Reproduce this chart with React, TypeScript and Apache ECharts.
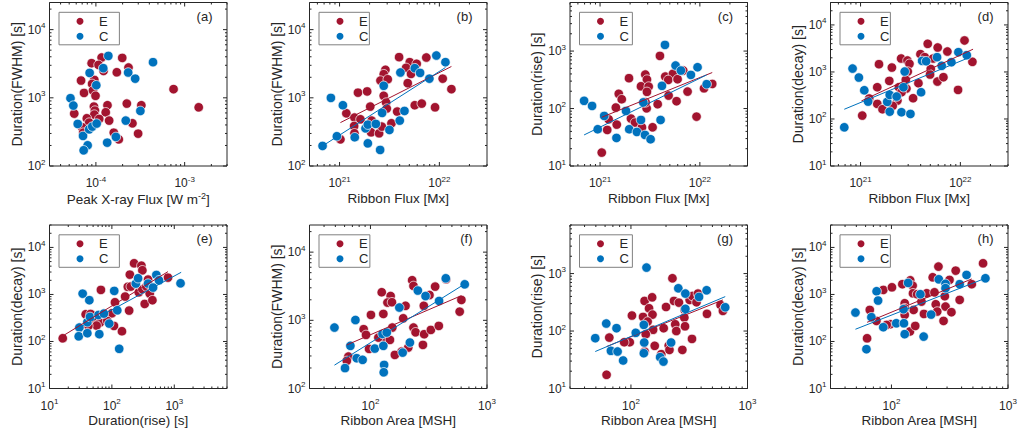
import React, { useEffect, useRef } from "react";
import * as echarts from "echarts";

const FONT = '"Liberation Sans", Arial, Helvetica, sans-serif';
const INK = "#262626";
const E_COLOR = "#A2142F";
const C_COLOR = "#0072BD";

// axis ranges
const PEAK_FLUX_RANGE = [3e-5, 3e-3];
const RIBBON_FLUX_RANGE = [5e20, 3e22];
const AREA_RANGE = [30, 1000];
const FWHM_RANGE = [100, 2.5e4];
const RISE_RANGE = [10, 7000];
const DECAY_RANGE = [10, 3e4];

const GROUPS = ["E", "C"];
const PANEL_LABELS = ["(a)", "(b)", "(c)", "(d)", "(e)", "(f)", "(g)", "(h)"];
const X_NAMES = [
  "{n|Peak X-ray Flux [W m}{s|-2}{n|]}",
  "Ribbon Flux [Mx]",
  "Ribbon Flux [Mx]",
  "Ribbon Flux [Mx]",
  "Duration(rise) [s]",
  "Ribbon Area [MSH]",
  "Ribbon Area [MSH]",
  "Ribbon Area [MSH]",
];
const Y_NAMES = [
  "Duration(FWHM) [s]",
  "Duration(FWHM) [s]",
  "Duration(rise) [s]",
  "Duration(decay) [s]",
  "Duration(decay) [s]",
  "Duration(FWHM) [s]",
  "Duration(rise) [s]",
  "Duration(decay) [s]",
];

// (a) peak X-ray flux vs FWHM
const A_E = [[1.16e-4,3900],[1.98e-4,3850],[8.95e-5,3220],[1.07e-4,3040],[2.33e-4,2780],[1.72e-4,2370],[1.22e-4,2480],[6.8e-5,1790],[9.6e-5,1830],[9.06e-5,1600],[7.35e-5,1180],[9.27e-5,1280],[9.9e-5,1070],[7.5e-4,1340],[1.44e-3,726],[5.7e-5,586],[9.5e-5,743],[9.75e-5,649],[9.6e-5,567],[1.35e-4,778],[1.29e-4,614],[2.23e-4,822],[3.25e-4,778],[7.9e-5,501],[1.09e-4,490],[1.41e-4,463],[8.4e-5,433],[7.0e-5,370],[7.2e-5,308],[2.58e-4,423],[1.59e-4,308],[1.81e-4,246],[2.99e-4,298]];
const A_C = [[5.17e-5,986],[5.57e-5,769],[6.24e-5,414],[7.16e-5,276],[8.07e-5,201],[7.28e-5,170],[8.4e-5,345],[9.1e-5,378],[1.02e-4,419],[8.5e-5,2320],[1.01e-4,1530],[1.21e-4,2720],[1.38e-4,4120],[2.31e-4,2350],[2.77e-4,1910],[4.4e-4,3330],[3.17e-4,642],[2.17e-4,463],[1.68e-4,267],[1.34e-4,220]];

// (b) ribbon flux vs FWHM
const B_E = [[3.95e21,3950],[5.05e21,3330],[7.4e21,3900],[5.93e21,3150],[4.64e21,2750],[5.2e21,2240],[2.88e21,2570],[2.77e21,2220],[2.57e21,1790],[3.04e21,1870],[4.82e21,1640],[1.08e22,1910],[1.32e22,1340],[1.53e21,1190],[1.89e21,1240],[2.77e21,1070],[2.93e21,851],[2.97e21,695],[2.03e21,743],[1.17e21,593],[1.41e21,513],[1.62e21,484],[1.4e21,386],[1.41e21,302],[2.1e21,463],[2.07e21,312],[2.49e21,302],[2.65e21,378],[3.31e21,423],[3.78e21,628],[5.67e21,778],[6.66e21,822],[9.05e21,726],[1.02e21,246]];
const B_C = [[6.76e20,197],[8.19e20,997],[9.4e20,273],[1.08e21,778],[1.42e21,264],[1.82e21,357],[1.92e21,404],[1.92e21,215],[2.31e21,414],[2.55e21,172],[2.67e21,600],[2.77e21,1500],[3.16e21,338],[4.01e21,463],[4.47e21,642],[4.07e21,2350],[5.67e21,2720],[6.41e21,2320],[7.94e21,1910],[9.33e21,4170],[1.15e22,3330]];
const B_FIT_E = [[1.02e21,433],[1.32e22,2880]];
const B_FIT_C = [[6.76e20,197],[1.15e22,2780]];

// (c) ribbon flux vs rise
const C_E = [[3.98e21,824],[1.95e21,337],[2.84e21,390],[2.95e21,319],[2.57e21,244],[3.07e21,241],[2.95e21,195],[4.5e21,360],[5.37e21,401],[4.82e21,315],[5.98e21,324],[6.81e21,458],[4.86e21,168],[5.84e21,134],[7.53e21,197],[1.1e22,225],[1.33e22,268],[9.26e21,72.3],[3.78e21,119],[2.93e21,101],[2.86e21,128],[1.54e21,180],[1.65e21,145],[1.44e21,104],[2.04e21,66.8],[2.24e21,56.9],[1.47e21,52.5],[1.22e21,65],[1.18e21,42.4],[2.63e21,47.2],[3.36e21,47.2],[1.04e21,17.1]];
const C_C = [[6.92e20,136],[8.32e20,111],[1.1e21,74.3],[9.48e20,43.6],[1.46e21,30.8],[1.82e21,90.8],[1.96e21,43.6],[2.34e21,39.1],[2.57e21,63.2],[2.71e21,128],[2.82e21,34.7],[3.21e21,29.2],[4.04e21,63.2],[4.17e21,248],[4.47e21,1280],[5.71e21,560],[6.46e21,458],[8.13e21,385],[9.48e21,523],[1.17e22,265]];
const C_FIT_E = [[1.04e21,70.5],[1.33e22,423]];
const C_FIT_C = [[6.92e20,34.7],[1.17e22,385]];

// (d) ribbon flux vs decay
const D_E = [[1.1e22,4670],[4.71e21,3960],[5.93e21,3310],[7.41e21,2720],[1.32e22,1640],[1.53e21,1460],[2.55e21,1930],[2.95e21,1750],[3.09e21,1490],[3.98e21,2390],[4.4e21,2060],[5.33e21,1930],[2.06e21,1240],[5.05e21,1160],[4.97e21,881],[2.97e21,1020],[2.84e21,678],[1.94e21,646],[5.89e21,625],[6.76e21,773],[3.8e21,576],[1.47e21,473],[2.42e21,473],[2.88e21,444],[2.57e21,370],[9.48e21,415],[3.36e21,276],[2.34e21,246],[1.22e21,272],[1.47e21,209],[2.1e21,190],[1.66e21,161],[1.04e21,118]];
const D_C = [[6.87e20,66.5],[8.32e20,1180],[9.62e20,760],[1.09e21,408],[1.19e21,234],[1.85e21,231],[1.96e21,325],[1.96e21,143],[2.57e21,139],[2.69e21,473],[2.77e21,1020],[3.16e21,128],[4.04e21,370],[4.14e21,1720],[4.54e21,1690],[5.84e21,2060],[6.5e21,1350],[8.13e21,1610],[9.55e21,2630],[1.16e22,2270],[2.3e21,300]];
const D_FIT_E = [[1.02e21,242],[1.34e22,3050]];
const D_FIT_C = [[6.87e20,161],[1.16e22,1930]];

// (e) rise vs decay
const E_E = [[16.3,117],[227,4600],[297,4100],[194,2640],[308,3270],[380,2070],[793,2280],[180,1450],[201,1470],[270,1110],[308,1290],[357,1470],[404,1040],[163,901],[66.7,1250],[112,682],[336,629],[446,754],[189,454],[100,398],[38,379],[45.7,385],[53.6,302],[43.5,288],[64.4,252],[56.9,218],[41.9,214],[84.3,274],[108,214],[145,165]];
const E_C = [[34,1040],[43.5,754],[30.1,198],[29.4,129],[40.4,150],[40.4,257],[44.6,333],[61.2,367],[62.8,143],[74.5,392],[90.6,240],[109,1190],[122,461],[131,69.7],[242,1700],[263,2210],[380,1700],[457,1400],[516,2600],[569,2000],[1260,1730]];
const E_FIT_E = [[15.4,125],[793,3060]];
const E_FIT_C = [[26.7,182],[1290,2960]];

// (f) ribbon area vs FWHM
const F_E = [[228,3870],[234,3190],[359,3120],[446,4000],[321,2350],[125,2580],[149,2270],[140,1820],[153,1840],[200,1630],[287,1630],[603,1990],[583,1340],[129,1240],[101,1200],[191,1070],[154,783],[87.5,740],[91.6,611],[234,783],[244,668],[289,625],[330,723],[386,828],[282,436],[211,399],[185,348],[162,311],[133,516],[147,516],[117,558],[97.3,381],[64.7,294],[62.7,254]];
const F_C = [[49.1,783],[60.5,199],[67.3,422],[74.3,1010],[76.3,278],[85.7,263],[109,385],[127,632],[138,661],[129,422],[131,222],[130,173],[177,1540],[189,336],[218,472],[255,2730],[297,2270],[388,1920],[443,4130],[644,3370]];
const F_FIT_E = [[62.7,436],[603,2300]];
const F_FIT_C = [[49.1,220],[644,3410]];

// (g) ribbon area vs rise
const G_E = [[227,828],[131,334],[152,386],[143,249],[127,176],[153,193],[200,262],[234,334],[258,312],[289,233],[319,348],[336,408],[376,448],[365,317],[287,171],[291,121],[240,131],[245,100],[191,112],[155,105],[139,146],[134,87.9],[102,186],[97.7,63.8],[87.5,63.8],[65.2,76.9],[131,44],[160,55.2],[211,55.8],[182,39.5],[214,47],[276,47],[334,72.9],[449,199],[587,284],[615,224],[61.8,17.3]];
const G_C = [[49.4,75],[61.4,135],[75.2,112],[67.3,45.2],[76.8,44],[85.7,30.7],[110,92.9],[129,128],[130,63.1],[129,41.1],[136,1270],[178,35.1],[190,29.4],[221,63.1],[255,554],[293,448],[293,243],[384,392],[446,512],[644,259]];
const G_FIT_E = [[61.8,53.7],[615,348]];
const G_FIT_C = [[49.4,44],[644,397]];

// (h) ribbon area vs decay
const H_E = [[61.8,117],[65.2,469],[74.3,274],[85.1,1250],[101,1420],[124,1650],[145,2000],[152,1540],[153,1060],[166,1010],[201,1060],[181,705],[155,469],[130,650],[130,509],[130,367],[144,163],[160,214],[97.7,233],[91,225],[190,385],[226,2320],[234,1110],[240,619],[247,433],[253,3910],[280,274],[291,552],[315,2040],[287,916],[327,419],[356,3210],[385,766],[489,1650],[611,4600]];
const H_C = [[49.1,412],[61,68.5],[67.3,328],[74.6,1170],[76.8,741],[85.1,201],[110,244],[128,244],[130,143],[127,485],[139,1760],[177,1010],[189,127],[219,373],[255,2100],[291,1680],[291,1360],[385,1650],[441,2600],[640,2210]];
const H_FIT_E = [[61.8,256],[489,2140]];
const H_FIT_C = [[49.1,182],[640,2210]];

const PANELS = [
  { xr: PEAK_FLUX_RANGE, yr: FWHM_RANGE, e: A_E, c: A_C, fe: null, fc: null },
  { xr: RIBBON_FLUX_RANGE, yr: FWHM_RANGE, e: B_E, c: B_C, fe: B_FIT_E, fc: B_FIT_C },
  { xr: RIBBON_FLUX_RANGE, yr: RISE_RANGE, e: C_E, c: C_C, fe: C_FIT_E, fc: C_FIT_C },
  { xr: RIBBON_FLUX_RANGE, yr: DECAY_RANGE, e: D_E, c: D_C, fe: D_FIT_E, fc: D_FIT_C },
  { xr: RISE_RANGE, yr: DECAY_RANGE, e: E_E, c: E_C, fe: E_FIT_E, fc: E_FIT_C },
  { xr: AREA_RANGE, yr: FWHM_RANGE, e: F_E, c: F_C, fe: F_FIT_E, fc: F_FIT_C },
  { xr: AREA_RANGE, yr: RISE_RANGE, e: G_E, c: G_C, fe: G_FIT_E, fc: G_FIT_C },
  { xr: AREA_RANGE, yr: DECAY_RANGE, e: H_E, c: H_C, fe: H_FIT_E, fc: H_FIT_C },
];

// layout
const COL_LEFT = [49.5, 309.5, 570, 830.5];
const ROW_TOP = [2.5, 225];
const GRID_W = 177.5;
const GRID_H = 163.5;
const LEGEND_RIGHT_PAD = [11, 1, 3.5, 1, 11, 1.5, 3.5, 1];

const inRange = (v: number, r: number[]) => {
  const l = Math.log10(v);
  return l >= Math.log10(r[0]) - 1e-9 && l <= Math.log10(r[1]) + 1e-9;
};

// tick marks: [x, y, kind] kind 0 x-major, 1 x-minor, 2 y-major, 3 y-minor
function tickData(xr: number[], yr: number[]) {
  const out: number[][] = [];
  const add = (r: number[], isX: boolean) => {
    const d0 = Math.floor(Math.log10(r[0]));
    const d1 = Math.ceil(Math.log10(r[1]));
    for (let d = d0; d <= d1; d++) {
      for (let k = 1; k <= 9; k++) {
        const v = k * Math.pow(10, d);
        if (!inRange(v, r)) continue;
        const major = k === 1;
        if (isX) out.push([v, yr[0], major ? 0 : 1]);
        else out.push([xr[0], v, major ? 2 : 3]);
      }
    }
  };
  add(xr, true);
  add(yr, false);
  return out;
}

const powLabel = (v: number) => {
  const l = Math.log10(v);
  const r = Math.round(l);
  if (Math.abs(l - r) > 1e-6) return "";
  return `{b|10}{s|${r}}`;
};

const LABEL_RICH = {
  b: { fontSize: 12, lineHeight: 16, fontFamily: FONT, color: INK },
  s: { fontSize: 8, lineHeight: 8, verticalAlign: "top", fontFamily: FONT, color: INK },
};

function buildOption() {
  const grid: any[] = [];
  const xAxis: any[] = [];
  const yAxis: any[] = [];
  const series: any[] = [];
  const legend: any[] = [];
  const graphic: any[] = [];

  PANELS.forEach((p, i) => {
    const left = COL_LEFT[i % 4];
    const top = ROW_TOP[Math.floor(i / 4)];
    grid.push({
      left, top, width: GRID_W, height: GRID_H,
      show: true, borderColor: INK, borderWidth: 1, backgroundColor: "#fff",
    });
    xAxis.push({
      type: "log", logBase: 10, gridIndex: i, min: p.xr[0], max: p.xr[1],
      axisLine: { show: false }, axisTick: { show: false }, splitLine: { show: false },
      axisLabel: { formatter: powLabel, rich: LABEL_RICH, margin: 9, color: INK, showMinLabel: true, showMaxLabel: true, hideOverlap: false },
      name: X_NAMES[i], nameLocation: "middle", nameGap: 25,
      nameTextStyle: {
        fontSize: 13.5, color: INK, fontFamily: FONT,
        rich: {
          n: { fontSize: 13.5, lineHeight: 16, color: INK, fontFamily: FONT },
          s: { fontSize: 9, lineHeight: 9, verticalAlign: "top", color: INK, fontFamily: FONT },
        },
      },
    });
    yAxis.push({
      type: "log", logBase: 10, gridIndex: i, min: p.yr[0], max: p.yr[1],
      axisLine: { show: false }, axisTick: { show: false }, splitLine: { show: false },
      axisLabel: { formatter: powLabel, rich: LABEL_RICH, margin: 4, color: INK, showMinLabel: true, showMaxLabel: true, hideOverlap: false },
      name: Y_NAMES[i], nameLocation: "middle", nameGap: 26,
      nameTextStyle: { fontSize: 14, color: INK, fontFamily: FONT },
    });

    series.push({
      type: "scatter", name: GROUPS[0], xAxisIndex: i, yAxisIndex: i, data: p.e,
      symbolSize: 9.5, itemStyle: { color: E_COLOR, borderColor: "#fff", borderWidth: 0.7, opacity: 1 },
      z: 2, silent: true,
    });
    series.push({
      type: "scatter", name: GROUPS[1], xAxisIndex: i, yAxisIndex: i, data: p.c,
      symbolSize: 9.5, itemStyle: { color: C_COLOR, borderColor: "#fff", borderWidth: 0.7, opacity: 1 },
      z: 3, silent: true,
    });
    if (p.fe) {
      series.push({
        type: "line", name: "E fit", xAxisIndex: i, yAxisIndex: i, data: p.fe,
        showSymbol: false, symbol: "none", lineStyle: { color: E_COLOR, width: 1 }, z: 4, silent: true,
      });
    }
    if (p.fc) {
      series.push({
        type: "line", name: "C fit", xAxisIndex: i, yAxisIndex: i, data: p.fc,
        showSymbol: false, symbol: "none", lineStyle: { color: C_COLOR, width: 1 }, z: 5, silent: true,
      });
    }
    series.push({
      type: "custom", name: "ticks", xAxisIndex: i, yAxisIndex: i, data: tickData(p.xr, p.yr),
      silent: true, clip: false, z: 6,
      renderItem: (params: any, api: any) => {
        const cs = params.coordSys;
        const kind = api.value(2);
        const pt = api.coord([api.value(0), api.value(1)]);
        const style = { stroke: INK, lineWidth: 1 };
        if (kind < 2) {
          const len = kind === 0 ? 4 : 2;
          const x = pt[0];
          const yb = cs.y + cs.height;
          return {
            type: "group",
            children: [
              { type: "line", shape: { x1: x, y1: yb, x2: x, y2: yb - len }, style },
              { type: "line", shape: { x1: x, y1: cs.y, x2: x, y2: cs.y + len }, style },
            ],
          };
        }
        const len = kind === 2 ? 4 : 2;
        const y = pt[1];
        const xr = cs.x + cs.width;
        return {
          type: "group",
          children: [
            { type: "line", shape: { x1: cs.x, y1: y, x2: cs.x + len, y2: y }, style },
            { type: "line", shape: { x1: xr, y1: y, x2: xr - len, y2: y }, style },
          ],
        };
      },
    });

    legend.push({
      data: GROUPS, orient: "vertical", left: left + 9.5, top: top + 9.8,
      padding: [1.5, LEGEND_RIGHT_PAD[i], 1, 17.5], itemGap: 0, itemWidth: 7, itemHeight: 7, icon: "circle",
      borderColor: "#808080", borderWidth: 1, backgroundColor: "#fff", borderRadius: 0,
      selectedMode: false,
      itemStyle: { borderWidth: 0 },
      textStyle: { fontSize: 13, lineHeight: 15, color: INK, fontFamily: FONT, padding: [0, 0, 0, 10.5] },
    });

    graphic.push({
      type: "text", x: left + GRID_W - 14.5, y: top + 13.5, z: 10,
      style: {
        text: PANEL_LABELS[i], font: `13px ${FONT}`, fill: INK,
        align: "right", verticalAlign: "middle", textAlign: "right", textVerticalAlign: "middle",
      },
    });
  });

  return { animation: false, backgroundColor: "#fff", grid, xAxis, yAxis, series, legend, graphic };
}

export default function App() {
  const ref = useRef<HTMLDivElement>(null);
  useEffect(() => {
    if (!ref.current) return;
    const chart = echarts.init(ref.current, null, { renderer: "svg" });
    chart.setOption(buildOption() as any);
    return () => chart.dispose();
  }, []);
  return (
    <div
      ref={ref}
      style={{ position: "absolute", left: 0, top: 0, width: 1020, height: 435, background: "#fff" }}
    />
  );
}
